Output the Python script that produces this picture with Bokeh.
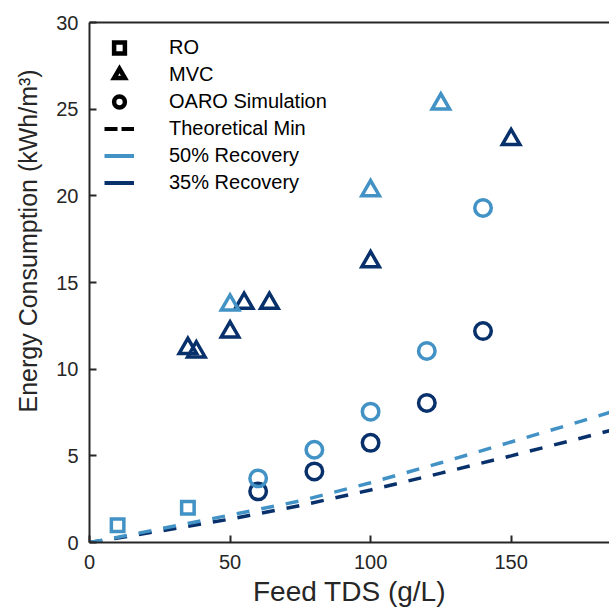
import numpy as np
from bokeh.plotting import figure
from bokeh.models import (ColumnDataSource, FixedTicker, LinearAxis, Legend, LegendItem, Title)
from bokeh.embed import file_html
from bokeh.resources import INLINE

# ---------------- data ----------------
LIGHT = "#4292c6"   # 50% recovery
DARK = "#08306b"    # 35% recovery

ro_tds = [10, 35]
ro_energy = [1.0, 2.0]

mvc50_tds = [50, 100, 125]
mvc50_energy = [13.7, 20.3, 25.3]

mvc35_tds = [35, 38, 50, 55, 64, 100, 150]
mvc35_energy = [11.2, 11.0, 12.15, 13.8, 13.8, 16.2, 23.25]

oaro50_tds = [60, 80, 100, 120, 140]
oaro50_energy = [3.7, 5.35, 7.55, 11.05, 19.3]

oaro35_tds = [60, 80, 100, 120, 140]
oaro35_energy = [2.95, 4.1, 5.75, 8.05, 12.2]

tmin_tds = [0, 10, 25, 50, 75, 100, 125, 150, 175, 185]
tmin50_energy = [0, 0.3, 0.78, 1.58, 2.4, 3.45, 4.6, 5.8, 7.0, 7.5]
tmin35_energy = [0, 0.26, 0.66, 1.35, 2.13, 3.03, 4.0, 5.0, 6.03, 6.45]

x_ticks = [0, 50, 100, 150]
y_ticks = [0, 5, 10, 15, 20, 25, 30]

FONT = "Liberation Sans"
AX = "#262626"

p = figure(width=609, height=611, x_range=(0, 185), y_range=(0, 30),
           output_backend="svg", toolbar_location=None,
           min_border_left=89, min_border_right=0, min_border_top=22,
           min_border_bottom=69)
p.outline_line_color = None
p.xgrid.visible = False
p.ygrid.visible = False
p.background_fill_color = "white"
p.border_fill_color = "white"

for ax, ticks in ((p.xaxis[0], x_ticks), (p.yaxis[0], y_ticks)):
    ax.ticker = FixedTicker(ticks=ticks)
    ax.axis_line_color = AX
    ax.axis_line_width = 2
    ax.major_tick_line_color = AX
    ax.major_tick_line_width = 2
    ax.major_tick_in = 7
    ax.major_tick_out = 0
    ax.minor_tick_line_color = None
    ax.major_label_text_font = FONT
    ax.major_label_text_font_size = "20px"
    ax.major_label_text_color = AX
    ax.axis_label_text_font = FONT
    ax.axis_label_text_font_style = "normal"
    ax.axis_label_text_color = AX

p.xaxis.axis_label = "Feed TDS (g/L)"
p.xaxis.axis_label_text_font_size = "28px"
p.xaxis.major_label_standoff = 12
p.xaxis.axis_label_standoff = 4
p.yaxis.major_label_standoff = 11

# y-axis title, set slightly above the axis centre as in the original
ytitle = Title(text="Energy Consumption (kWh/m³)", align="left", offset=130,
               vertical_align="top", standoff=20,
               text_font=FONT, text_font_size="25px", text_font_style="normal",
               text_color=AX)
p.add_layout(ytitle, "left")

top = LinearAxis(ticker=FixedTicker(ticks=[]), axis_line_color=AX, axis_line_width=2,
                 major_tick_line_color=None, minor_tick_line_color=None,
                 major_label_text_font_size="0px")
p.add_layout(top, "above")

# theoretical minimum lines
p.line(tmin_tds, tmin35_energy, line_color=DARK, line_width=3.5, line_dash="13 12")
p.line(tmin_tds, tmin50_energy, line_color=LIGHT, line_width=3.5, line_dash="13 12")

# markers
p.scatter(ro_tds, ro_energy, marker="square", size=12.5, fill_color=None,
          line_color=LIGHT, line_width=3.5, line_join="miter")
p.scatter(mvc35_tds, mvc35_energy, marker="triangle", size=17.5, fill_color=None,
          line_color=DARK, line_width=3.5, line_join="miter")
p.scatter(mvc50_tds, mvc50_energy, marker="triangle", size=17.5, fill_color=None,
          line_color=LIGHT, line_width=3.5, line_join="miter")
p.scatter(oaro35_tds, oaro35_energy, marker="circle", size=16.5, fill_color=None,
          line_color=DARK, line_width=3.5)
p.scatter(oaro50_tds, oaro50_energy, marker="circle", size=16.5, fill_color=None,
          line_color=LIGHT, line_width=3.5)

# legend keys (black symbols)
nan_src = ColumnDataSource(dict(x=[np.nan], y=[np.nan]))
k_sq = p.scatter("x", "y", source=nan_src, marker="square", fill_color=None,
                 line_color="black", line_width=4.5, line_join="miter")
k_tri = p.scatter("x", "y", source=nan_src, marker="triangle", fill_color=None,
                  line_color="black", line_width=4.5, line_join="miter")
k_cir = p.scatter("x", "y", source=nan_src, marker="circle", fill_color=None,
                  line_color="black", line_width=4.5)
k_dash = p.line("x", "y", source=nan_src, line_color="black", line_width=4, line_dash="13 4")
k_50 = p.line("x", "y", source=nan_src, line_color=LIGHT, line_width=4)
k_35 = p.line("x", "y", source=nan_src, line_color=DARK, line_width=4)

legend = Legend(items=[
    LegendItem(label="RO", renderers=[k_sq]),
    LegendItem(label="MVC", renderers=[k_tri]),
    LegendItem(label="OARO Simulation", renderers=[k_cir]),
    LegendItem(label="Theoretical Min", renderers=[k_dash]),
    LegendItem(label="50% Recovery", renderers=[k_50]),
    LegendItem(label="35% Recovery", renderers=[k_35]),
], location=(15, 346), glyph_width=30, glyph_height=27, spacing=0,
   label_standoff=35, label_height=20, label_text_font=FONT,
   label_text_font_size="20px", label_text_color="black",
   border_line_color=None, background_fill_alpha=0, padding=0, margin=0)
p.add_layout(legend, "center")

open("out.html", "w").write(file_html(p, INLINE))
